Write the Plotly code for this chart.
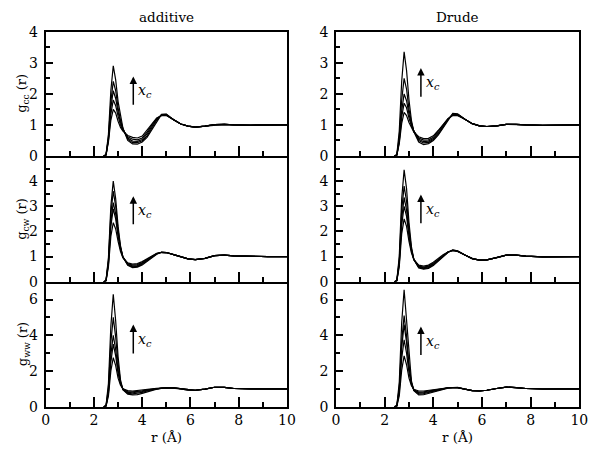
import plotly.graph_objects as go

# ---------------- data ----------------
R_HEAD = [2.4, 2.5, 2.6, 2.7, 2.8, 2.9, 3.0, 3.1, 3.2, 3.4, 3.6, 3.8,
          4.0, 4.2, 4.4, 4.6, 4.8, 5.0, 5.3, 5.6]
R_TAIL = [5.9, 6.2, 6.6, 7.0, 7.4, 7.8, 8.5, 9.2, 10.0]

# additive, g_cc
ADD_CC = [
    [0, 0.03, 0.45, 1.15, 1.5, 1.38, 1.12, 0.92, 0.8, 0.66, 0.6, 0.58, 0.64, 0.84, 1.05, 1.22, 1.3, 1.3, 1.17, 1.03],
    [0, 0.03, 0.5, 1.35, 1.8, 1.62, 1.28, 1.0, 0.83, 0.62, 0.54, 0.52, 0.58, 0.77, 1.0, 1.2, 1.31, 1.31, 1.17, 1.03],
    [0, 0.04, 0.55, 1.55, 2.1, 1.85, 1.42, 1.08, 0.86, 0.58, 0.48, 0.47, 0.53, 0.71, 0.95, 1.18, 1.32, 1.32, 1.17, 1.03],
    [0, 0.04, 0.6, 1.75, 2.4, 2.1, 1.55, 1.15, 0.88, 0.54, 0.43, 0.43, 0.49, 0.65, 0.9, 1.15, 1.33, 1.34, 1.17, 1.03],
    [0, 0.05, 0.7, 2.1, 2.9, 2.45, 1.75, 1.25, 0.9, 0.5, 0.39, 0.38, 0.45, 0.6, 0.84, 1.12, 1.34, 1.35, 1.17, 1.03],
]
ADD_CC_TAIL = [0.96, 0.93, 0.96, 1.01, 1.02, 1.0, 0.99, 1.0, 1.0]

# additive, g_cw
ADD_CW = [
    [0, 0.03, 0.6, 1.8, 2.35, 2.1, 1.6, 1.2, 0.95, 0.75, 0.7, 0.72, 0.8, 0.92, 1.04, 1.13, 1.17, 1.16, 1.08, 0.98],
    [0, 0.04, 0.7, 2.2, 2.9, 2.5, 1.8, 1.3, 0.98, 0.72, 0.66, 0.68, 0.76, 0.89, 1.02, 1.12, 1.17, 1.16, 1.08, 0.98],
    [0, 0.04, 0.75, 2.4, 3.15, 2.7, 1.9, 1.33, 0.98, 0.7, 0.62, 0.64, 0.73, 0.86, 1.0, 1.11, 1.17, 1.16, 1.08, 0.98],
    [0, 0.05, 0.85, 2.7, 3.6, 3.0, 2.05, 1.38, 0.98, 0.67, 0.59, 0.61, 0.7, 0.84, 0.98, 1.1, 1.17, 1.16, 1.08, 0.98],
    [0, 0.05, 0.95, 3.0, 4.0, 3.3, 2.2, 1.42, 0.98, 0.65, 0.56, 0.58, 0.67, 0.81, 0.96, 1.09, 1.17, 1.16, 1.08, 0.98],
]
ADD_CW_TAIL = [0.91, 0.88, 0.93, 1.04, 1.06, 1.03, 1.0, 1.0, 1.0]

# additive, g_ww
ADD_WW = [
    [0, 0.03, 0.6, 2.0, 2.75, 2.3, 1.6, 1.2, 1.0, 0.9, 0.88, 0.9, 0.93, 0.97, 1.0, 1.03, 1.05, 1.06, 1.05, 1.0],
    [0, 0.04, 0.75, 2.5, 3.5, 2.85, 1.85, 1.28, 1.0, 0.85, 0.83, 0.85, 0.89, 0.94, 0.98, 1.02, 1.05, 1.06, 1.05, 1.0],
    [0, 0.04, 0.85, 2.9, 4.0, 3.2, 2.05, 1.32, 0.98, 0.8, 0.78, 0.8, 0.85, 0.91, 0.96, 1.01, 1.04, 1.06, 1.05, 1.0],
    [0, 0.05, 1.05, 3.6, 5.0, 3.9, 2.4, 1.4, 0.96, 0.75, 0.72, 0.74, 0.8, 0.88, 0.95, 1.0, 1.04, 1.06, 1.05, 1.0],
    [0, 0.06, 1.3, 4.5, 6.3, 4.8, 2.8, 1.5, 0.95, 0.7, 0.66, 0.68, 0.75, 0.84, 0.92, 0.98, 1.03, 1.06, 1.05, 1.0],
]
ADD_WW_TAIL = [0.93, 0.92, 0.98, 1.09, 1.08, 1.02, 0.99, 1.0, 1.0]

# Drude, g_cc
DRU_CC = [
    [0, 0.02, 0.4, 1.05, 1.4, 1.3, 1.08, 0.9, 0.77, 0.62, 0.56, 0.57, 0.65, 0.82, 1.02, 1.2, 1.3, 1.3, 1.18, 1.04],
    [0, 0.03, 0.45, 1.25, 1.7, 1.55, 1.22, 0.97, 0.8, 0.58, 0.51, 0.52, 0.6, 0.78, 0.99, 1.19, 1.32, 1.32, 1.18, 1.04],
    [0, 0.03, 0.5, 1.45, 2.0, 1.78, 1.35, 1.02, 0.8, 0.54, 0.46, 0.48, 0.56, 0.74, 0.96, 1.18, 1.34, 1.33, 1.18, 1.04],
    [0, 0.04, 0.6, 1.8, 2.5, 2.15, 1.5, 1.08, 0.8, 0.5, 0.42, 0.44, 0.53, 0.7, 0.93, 1.17, 1.35, 1.34, 1.18, 1.04],
    [0, 0.05, 0.8, 2.4, 3.35, 2.75, 1.8, 1.15, 0.78, 0.45, 0.37, 0.4, 0.5, 0.67, 0.9, 1.15, 1.37, 1.36, 1.18, 1.04],
]
DRU_CC_TAIL = [0.97, 0.95, 0.97, 1.02, 1.02, 1.0, 0.99, 1.0, 1.0]

# Drude, g_cw
DRU_CW = [
    [0, 0.03, 0.6, 1.9, 2.5, 2.2, 1.6, 1.15, 0.88, 0.66, 0.62, 0.66, 0.77, 0.92, 1.07, 1.18, 1.23, 1.2, 1.06, 0.92],
    [0, 0.04, 0.7, 2.25, 3.0, 2.6, 1.8, 1.22, 0.88, 0.62, 0.58, 0.62, 0.73, 0.89, 1.05, 1.18, 1.24, 1.2, 1.06, 0.92],
    [0, 0.04, 0.75, 2.5, 3.35, 2.85, 1.92, 1.27, 0.88, 0.6, 0.55, 0.59, 0.7, 0.87, 1.04, 1.18, 1.25, 1.21, 1.06, 0.92],
    [0, 0.05, 0.85, 2.85, 3.8, 3.2, 2.1, 1.32, 0.88, 0.58, 0.52, 0.56, 0.67, 0.84, 1.02, 1.17, 1.26, 1.22, 1.06, 0.92],
    [0, 0.06, 1.0, 3.3, 4.45, 3.7, 2.35, 1.4, 0.88, 0.55, 0.5, 0.53, 0.64, 0.81, 1.0, 1.16, 1.27, 1.23, 1.06, 0.92],
]
DRU_CW_TAIL = [0.86, 0.87, 0.96, 1.06, 1.06, 1.02, 0.99, 1.0, 1.0]

# Drude, g_ww
DRU_WW = [
    [0, 0.03, 0.6, 2.05, 2.85, 2.35, 1.6, 1.18, 0.98, 0.88, 0.88, 0.92, 0.97, 1.01, 1.04, 1.06, 1.07, 1.06, 0.98, 0.9],
    [0, 0.04, 0.8, 2.7, 3.75, 3.0, 1.9, 1.25, 0.95, 0.82, 0.83, 0.88, 0.94, 0.99, 1.03, 1.06, 1.07, 1.06, 0.98, 0.9],
    [0, 0.05, 0.95, 3.3, 4.6, 3.6, 2.2, 1.32, 0.93, 0.77, 0.78, 0.84, 0.91, 0.97, 1.02, 1.05, 1.07, 1.07, 0.98, 0.9],
    [0, 0.05, 1.05, 3.65, 5.1, 3.95, 2.35, 1.36, 0.92, 0.72, 0.73, 0.8, 0.88, 0.95, 1.01, 1.05, 1.07, 1.07, 0.98, 0.9],
    [0, 0.06, 1.35, 4.7, 6.55, 4.9, 2.8, 1.45, 0.9, 0.66, 0.67, 0.75, 0.84, 0.92, 0.99, 1.04, 1.07, 1.08, 0.98, 0.9],
]
DRU_WW_TAIL = [0.88, 0.92, 1.02, 1.1, 1.07, 1.02, 0.99, 1.0, 1.0]

COLUMN_TITLES = ["additive", "Drude"]
Y_TITLES = ["g<sub>cc</sub> (r)", "g<sub>cw</sub> (r)", "g<sub>ww</sub> (r)"]
X_TITLE = "r (Å)"
X_TICKS = [0, 2, 4, 6, 8, 10]
Y_TICKS = [[0, 1, 2, 3, 4], [0, 1, 2, 3, 4], [0, 2, 4, 6]]
Y_RANGES = [[0, 4], [0, 5], [0, 7]]

# ---------------- figure ----------------
W, H = 600, 455
OFF = 8  # page body margin: figure origin sits 8px into the page
FONT = "DejaVu Serif"

panels = [  # (row, col, curves, tail)
    (0, 0, ADD_CC, ADD_CC_TAIL), (0, 1, DRU_CC, DRU_CC_TAIL),
    (1, 0, ADD_CW, ADD_CW_TAIL), (1, 1, DRU_CW, DRU_CW_TAIL),
    (2, 0, ADD_WW, ADD_WW_TAIL), (2, 1, DRU_WW, DRU_WW_TAIL),
]

x_dom_px = [(45.7 - OFF, 287.0 - OFF), (336.0 - OFF, 579.3 - OFF)]
y_dom_px = [(31.7 - OFF, 156.0 - OFF), (156.0 - OFF, 281.7 - OFF), (281.7 - OFF, 406.7 - OFF)]

fig = go.Figure()
layout = dict(width=W, height=H, margin=dict(l=0, r=0, t=0, b=0, autoexpand=False),
              paper_bgcolor="white", plot_bgcolor="white", showlegend=False,
              font=dict(family=FONT, size=14, color="black"))

r_all = R_HEAD + R_TAIL
for i, (row, col, curves, tail) in enumerate(panels):
    n = i + 1
    xa = "x" if n == 1 else f"x{n}"
    ya = "y" if n == 1 else f"y{n}"
    for c in curves:
        fig.add_trace(go.Scatter(x=r_all, y=c + tail, mode="lines", xaxis=xa, yaxis=ya,
                                 line=dict(color="black", width=1.2), hoverinfo="skip"))
    x0, x1 = x_dom_px[col]
    yt, yb = y_dom_px[row]
    common = dict(showline=True, linecolor="black", linewidth=1.8,
                  showgrid=False, zeroline=False, ticks="inside", tickcolor="black",
                  tickwidth=1.5, automargin=False,
                  tickfont=dict(family=FONT, size=14, color="black"))
    layout[f"xaxis{n}" if n > 1 else "xaxis"] = dict(
        common, mirror=(row == 0), domain=[x0 / W, x1 / W], range=[0, 10], anchor=ya,
        tickvals=X_TICKS, ticklen=10, showticklabels=(row == 2),
        minor=dict(ticks="inside", ticklen=5, tickwidth=1.5, tickcolor="black",
                   tickvals=[1, 3, 5, 7, 9]))
    ymin, ymax = Y_RANGES[row]
    minor_vals = [v + 0.5 for v in range(ymax)] if row < 2 else [1, 3, 5]
    layout[f"yaxis{n}" if n > 1 else "yaxis"] = dict(
        common, mirror=True, domain=[1 - yb / H, 1 - yt / H], range=Y_RANGES[row], anchor=xa,
        tickvals=Y_TICKS[row], ticklen=7, ticklabelstandoff=3,
        minor=dict(ticks="inside", ticklen=4, tickwidth=1.5, tickcolor="black",
                   tickvals=minor_vals))

fig.update_layout(**layout)

ann = []
for col, t in enumerate(COLUMN_TITLES):
    x0, x1 = x_dom_px[col]
    ann.append(dict(text=t, x=(x0 + x1) / 2 / W, y=1 - (16.5 - OFF) / H, xref="paper", yref="paper",
                    showarrow=False, font=dict(family=FONT, size=13.5), xanchor="center", yanchor="middle"))
    ann.append(dict(text=X_TITLE, x=(x0 + x1) / 2 / W, y=1 - (437 - OFF) / H, xref="paper", yref="paper",
                    showarrow=False, font=dict(family=FONT, size=13.5), xanchor="center", yanchor="middle"))
for row, t in enumerate(Y_TITLES):
    yt, yb = y_dom_px[row]
    ann.append(dict(text=t, x=(23 - OFF) / W, y=1 - (yt + yb) / 2 / H, xref="paper", yref="paper",
                    textangle=-90, showarrow=False, font=dict(family=FONT, size=13),
                    xanchor="center", yanchor="middle"))

# x_c arrows (panel index, x, tail y, head y)
arrows = [(1, 3.63, 1.6, 2.56), (2, 3.49, 1.86, 2.83),
          (3, 3.63, 2.23, 3.4), (4, 3.49, 2.27, 3.47),
          (5, 3.63, 2.9, 4.6), (6, 3.49, 2.81, 4.49)]
for n, ax_, y0, y1 in arrows:
    xa = "x" if n == 1 else f"x{n}"
    ya = "y" if n == 1 else f"y{n}"
    ann.append(dict(x=ax_, y=y1, ax=ax_, ay=y0, xref=xa, yref=ya, axref=xa, ayref=ya,
                    text="", showarrow=True, arrowhead=2, arrowsize=1, arrowwidth=1.5,
                    arrowcolor="black"))
    ann.append(dict(x=ax_, y=(y0 + y1) / 2, xref=xa, yref=ya, xshift=3,
                    text="<i>x</i><sub><i>c</i></sub>", showarrow=False,
                    xanchor="left", yanchor="middle", font=dict(family=FONT, size=14)))

fig.update_layout(annotations=ann)
fig.write_html("out.html")
